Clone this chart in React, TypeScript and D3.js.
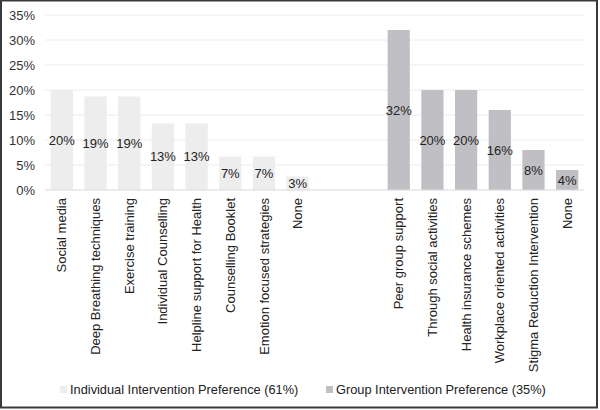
import React, { useEffect, useRef } from "react";
import * as d3 from "d3";

// categories, individual first, then two empty slots, then group
const individualLabels = [
  "Social media",
  "Deep Breathing techniques",
  "Exercise training",
  "Individual Counselling",
  "Helpline support for Health",
  "Counselling Booklet",
  "Emotion focused strategies",
  "None",
];
const individualValues = [20, 18.7, 18.7, 13.3, 13.3, 6.7, 6.7, 2.7];
const individualText = ["20%", "19%", "19%", "13%", "13%", "7%", "7%", "3%"];

const groupLabels = [
  "Peer group support",
  "Through social activities",
  "Health insurance schemes",
  "Workplace oriented activities",
  "Stigma Reduction Intervention",
  "None",
];
const groupValues = [32, 20, 20, 16, 8, 4];
const groupText = ["32%", "20%", "20%", "16%", "8%", "4%"];

const yTicks = [0, 5, 10, 15, 20, 25, 30, 35];
const legendNames = [
  "Individual Intervention Preference (61%)",
  "Group Intervention Preference (35%)",
];
const colors = ["#ededed", "#c0c0c4"];

const App = () => {
  const ref = useRef<SVGSVGElement>(null);

  useEffect(() => {
    const width = 600,
      height = 410;
    const margin = { top: 15, right: 16, bottom: 220, left: 45 };

    const rows = [
      ...individualLabels.map((l, i) => ({
        key: "i" + i,
        label: l,
        value: individualValues[i],
        text: individualText[i],
        series: 0,
      })),
      { key: "gap1", label: "", value: null, text: "", series: -1 },
      { key: "gap2", label: "", value: null, text: "", series: -1 },
      ...groupLabels.map((l, i) => ({
        key: "g" + i,
        label: l,
        value: groupValues[i],
        text: groupText[i],
        series: 1,
      })),
    ];

    const svg = d3.select(ref.current);
    svg.selectAll("*").remove();

    // outer frame
    svg
      .append("rect")
      .attr("x", 1)
      .attr("y", 0.5)
      .attr("width", 596)
      .attr("height", 407)
      .attr("fill", "#fff")
      .attr("stroke", "#3a3a3a")
      .attr("stroke-width", 2);

    const x = d3
      .scaleBand()
      .domain(rows.map((d) => d.key))
      .range([margin.left, width - margin.right])
      .paddingInner(0.34)
      .paddingOuter(0.17);

    const y = d3
      .scaleLinear()
      .domain([0, 35])
      .range([height - margin.bottom, margin.top]);

    // gridlines
    svg
      .append("g")
      .selectAll("line")
      .data(yTicks.slice(1))
      .enter()
      .append("line")
      .attr("x1", margin.left)
      .attr("x2", width - margin.right)
      .attr("y1", (d) => y(d))
      .attr("y2", (d) => y(d))
      .attr("stroke", "#ececec")
      .attr("stroke-width", 1);

    // y tick labels
    svg
      .append("g")
      .selectAll("text")
      .data(yTicks)
      .enter()
      .append("text")
      .attr("x", 35)
      .attr("y", (d) => y(d))
      .attr("dy", "0.35em")
      .attr("text-anchor", "end")
      .attr("font-size", 13)
      .attr("fill", "#333")
      .text((d) => d + "%");

    const bars = rows.filter((d) => d.value !== null);

    svg
      .append("g")
      .selectAll("rect")
      .data(bars)
      .enter()
      .append("rect")
      .attr("x", (d) => x(d.key)!)
      .attr("width", x.bandwidth())
      .attr("y", (d) => y(d.value!))
      .attr("height", (d) => y(0) - y(d.value!))
      .attr("fill", (d) => colors[d.series]);

    // baseline
    svg
      .append("line")
      .attr("x1", margin.left)
      .attr("x2", width - margin.right)
      .attr("y1", y(0))
      .attr("y2", y(0))
      .attr("stroke", "#d9d9d9")
      .attr("stroke-width", 1);

    // value labels
    svg
      .append("g")
      .selectAll("text")
      .data(bars)
      .enter()
      .append("text")
      .attr("x", (d) => x(d.key)! + x.bandwidth() / 2)
      .attr("y", (d) => (y(d.value!) + y(0)) / 2)
      .attr("dy", "0.35em")
      .attr("text-anchor", "middle")
      .attr("font-size", 13)
      .attr("fill", "#222")
      .text((d) => d.text);

    // category labels (rotated)
    svg
      .append("g")
      .selectAll("text")
      .data(bars)
      .enter()
      .append("text")
      .attr(
        "transform",
        (d) => `translate(${x(d.key)! + x.bandwidth() / 2}, ${y(0) + 8}) rotate(-90)`
      )
      .attr("dy", "0.35em")
      .attr("text-anchor", "end")
      .attr("font-size", 13)
      .attr("fill", "#222")
      .text((d) => d.label);

    // legend
    const legendX = [60, 326];
    const lg = svg
      .append("g")
      .selectAll("g")
      .data(legendNames)
      .enter()
      .append("g")
      .attr("transform", (d, i) => `translate(${legendX[i]}, 390)`);
    lg.append("rect")
      .attr("x", 0)
      .attr("y", -4)
      .attr("width", 7)
      .attr("height", 7)
      .attr("fill", (d, i) => colors[i]);
    lg.append("text")
      .attr("x", 10)
      .attr("y", 0)
      .attr("dy", "0.35em")
      .attr("font-size", 12.8)
      .attr("fill", "#222")
      .text((d) => d);
  }, []);

  return (
    <div style={{ position: "fixed", left: 0, top: 0 }}>
      <svg
        ref={ref}
        width={600}
        height={410}
        style={{ display: "block", fontFamily: "'Liberation Sans', Arial, sans-serif" }}
      />
    </div>
  );
};

export default App;
